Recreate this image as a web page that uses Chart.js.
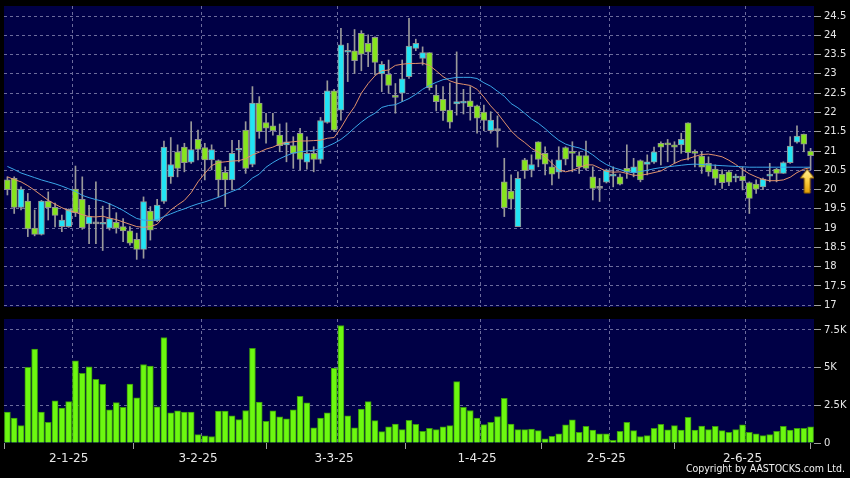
<!DOCTYPE html>
<html>
<head>
<meta charset="utf-8">
<script src="https://cdn.jsdelivr.net/npm/chart.js@4/dist/chart.umd.min.js"></script>
<style>
  html, body { margin: 0; padding: 0; background: #000; }
  #wrap { position: relative; width: 850px; height: 478px; background: #000; overflow: hidden; }
  #price { position: absolute; left: 0; top: 0; }
  #vol { position: absolute; left: 0; top: 312px; }
  #copy { position: absolute; right: 5px; top: 462px; color: #f0f0f0;
          font: 10.5px "DejaVu Sans Condensed", "DejaVu Sans", sans-serif; }
</style>
</head>
<body>
<div id="wrap">
  <canvas id="price" width="850" height="312"></canvas>
  <canvas id="vol" width="850" height="166"></canvas>
  <div id="copy">Copyright by AASTOCKS.com Ltd.</div>
</div>
<script>
// daily candles, oldest first (mid-Dec 2024 .. mid-Jun 2025)
const open = [
  20.25,20.29,19.54,19.7,19.0,18.84,19.7,19.54,19.04,19.04,
  20.01,19.75,19.11,19.11,19.1,19.0,19.15,19.04,18.93,18.71,
  18.45,19.44,19.19,19.69,20.33,20.98,21.1,20.71,21.3,21.09,
  20.77,20.75,20.45,20.25,21.02,21.54,20.65,22.24,21.74,21.65,
  21.41,21.16,21.14,21.46,20.71,20.94,20.78,21.74,22.56,22.06,
  23.56,23.6,24.05,23.79,23.95,23.0,22.99,22.43,22.5,22.93,
  23.66,23.4,23.55,22.45,22.34,22.06,22.22,22.24,22.3,22.17,
  22.01,21.53,21.53,20.2,19.96,19.04,20.77,20.51,21.24,20.94,
  20.59,20.45,21.09,20.98,20.88,20.88,20.33,20.03,20.19,20.35,
  20.33,20.55,20.44,20.75,20.65,20.71,21.2,21.2,21.16,21.16,
  21.73,20.96,20.87,20.68,20.53,20.4,20.46,20.3,20.35,20.18,
  20.14,20.07,20.35,20.53,20.42,20.7,21.23,21.44,21.0
];
const close = [
  20.0,19.54,20.01,18.98,18.84,19.7,19.53,19.33,19.21,19.49,
  19.4,19.01,19.3,19.11,19.14,19.25,19.0,18.93,18.61,18.45,
  19.69,18.95,19.6,21.1,20.65,20.55,20.7,21.04,21.04,20.77,
  21.04,20.25,20.25,20.94,21.04,20.55,22.24,21.5,21.59,21.53,
  21.14,21.24,20.94,20.78,20.94,20.78,21.79,22.56,21.54,23.75,
  23.6,23.34,23.51,23.56,23.3,23.25,22.7,22.39,22.87,23.72,
  23.79,23.55,22.64,22.28,22.04,21.75,22.28,22.28,22.15,21.85,
  21.79,21.8,21.53,19.53,19.75,20.29,20.49,20.65,20.78,20.66,
  20.4,20.77,20.79,20.94,20.59,20.55,20.03,20.03,20.51,20.4,
  20.14,20.46,20.59,20.25,20.72,20.98,21.1,21.16,21.1,21.3,
  20.96,20.94,20.58,20.46,20.29,20.18,20.19,20.35,20.23,19.77,
  20.01,20.27,20.4,20.42,20.7,21.13,21.39,21.18,20.88
];
const high = [
  20.33,20.33,20.07,19.9,19.47,19.72,19.94,19.65,19.34,19.5,
  20.61,20.33,19.59,20.2,19.57,19.64,19.4,19.25,19.04,18.87,
  19.81,19.56,19.75,21.26,21.35,21.16,21.2,21.76,21.54,21.2,
  21.16,20.77,20.59,21.28,21.28,21.76,22.67,22.41,21.98,21.98,
  21.7,21.73,21.37,21.59,21.37,21.11,21.87,22.82,22.6,24.18,
  23.79,24.15,24.12,24.01,23.96,23.32,23.36,22.75,23.36,24.44,
  23.9,23.7,23.55,22.71,22.67,22.76,23.57,22.6,22.67,22.19,
  22.19,22.02,21.91,20.81,20.38,20.46,20.81,20.9,21.24,21.11,
  20.77,21.11,21.11,21.24,20.98,21.26,20.59,20.29,20.53,20.59,
  20.4,21.16,20.81,20.77,20.9,21.1,21.24,21.3,21.24,21.46,
  21.73,21.03,20.98,20.85,20.64,20.51,20.5,20.4,20.59,20.2,
  20.25,20.3,20.68,20.55,20.72,21.37,21.65,21.44,21.07
];
const low = [
  19.86,19.38,19.47,18.78,18.8,18.82,19.21,19.03,18.91,19.02,
  19.3,18.97,18.6,18.6,18.42,18.95,18.87,18.65,18.56,18.19,
  18.22,18.69,19.17,19.64,20.16,20.33,20.46,20.68,20.77,20.25,
  20.51,19.81,19.56,19.99,20.72,20.42,20.59,21.33,21.2,21.41,
  20.98,20.72,20.55,20.51,20.53,20.46,20.68,21.72,21.5,21.8,
  22.8,23.01,23.08,23.19,22.97,22.54,22.5,21.98,22.28,22.88,
  23.6,23.23,22.58,22.04,21.79,21.59,21.93,21.96,21.8,21.46,
  21.53,21.46,21.1,19.3,19.49,19.04,20.29,20.33,20.59,20.38,
  20.12,20.29,20.64,20.46,20.42,20.51,19.73,19.69,20.17,20.07,
  20.12,20.29,20.33,20.2,20.38,20.68,20.64,20.72,20.68,20.94,
  20.77,20.59,20.42,20.35,20.12,20.03,20.1,20.2,19.99,19.38,
  19.9,20.0,20.2,20.2,20.42,20.68,21.2,20.98,20.51
];
// moving averages (orange = short, blue = long)
const maShort = [
  20.33,20.26,20.2,20.1,19.98,19.85,19.72,19.62,19.53,19.45,
  19.41,19.35,19.3,19.29,19.31,19.26,19.22,19.16,19.1,19.04,
  19.02,19.04,19.1,19.3,19.47,19.6,19.72,19.92,20.2,20.42,
  20.62,20.7,20.72,20.74,20.75,20.8,20.9,20.97,21.05,21.1,
  21.18,21.22,21.24,21.26,21.26,21.27,21.28,21.33,21.35,21.6,
  21.9,22.15,22.5,22.75,22.95,23.08,23.1,23.22,23.25,23.27,
  23.27,23.28,23.22,23.08,22.93,22.82,22.76,22.73,22.7,22.6,
  22.4,22.17,21.98,21.75,21.52,21.35,21.22,21.07,20.97,20.85,
  20.68,20.51,20.46,20.5,20.57,20.64,20.64,20.56,20.47,20.45,
  20.46,20.42,20.37,20.37,20.4,20.44,20.48,20.58,20.68,20.76,
  20.8,20.86,20.91,20.92,20.89,20.85,20.76,20.65,20.52,20.41,
  20.33,20.26,20.23,20.23,20.25,20.32,20.44,20.53,20.57
];
const maLong = [
  20.6,20.52,20.43,20.37,20.31,20.25,20.2,20.15,20.09,20.02,
  19.95,19.85,19.79,19.74,19.7,19.63,19.55,19.46,19.35,19.25,
  19.21,19.2,19.22,19.3,19.37,19.44,19.5,19.57,19.63,19.68,
  19.74,19.8,19.88,19.95,20.02,20.14,20.3,20.4,20.58,20.7,
  20.8,20.88,20.95,20.98,21.0,21.02,21.05,21.12,21.2,21.3,
  21.44,21.6,21.75,21.88,21.98,22.13,22.18,22.2,22.28,22.36,
  22.47,22.6,22.7,22.78,22.85,22.88,22.91,22.91,22.91,22.88,
  22.77,22.68,22.55,22.42,22.23,22.12,21.98,21.83,21.72,21.58,
  21.42,21.28,21.18,21.12,21.08,21.01,20.9,20.76,20.65,20.57,
  20.52,20.46,20.44,20.47,20.5,20.54,20.57,20.59,20.61,20.63,
  20.65,20.66,20.65,20.64,20.63,20.62,20.61,20.6,20.59,20.58,
  20.58,20.58,20.58,20.58,20.58,20.58,20.58,20.58,20.58
];
// volume in thousands
const volK = [
  2.05,1.66,1.15,5.03,6.24,2.05,1.37,2.8,2.32,2.75,
  5.45,4.62,5.05,4.22,3.89,2.2,2.68,2.36,3.91,2.99,
  5.21,5.1,2.4,7.0,2.0,2.14,2.05,2.05,0.56,0.47,
  0.43,2.12,2.12,1.81,1.55,2.16,6.28,2.71,1.43,2.14,
  1.74,1.61,2.2,3.1,2.66,1.0,1.66,2.0,4.97,7.8,
  1.81,1.0,2.25,2.75,1.48,0.76,1.07,1.26,0.89,1.5,
  1.24,0.78,0.97,0.89,1.07,1.15,4.07,2.36,2.16,1.66,
  1.22,1.37,1.76,2.97,1.26,0.89,0.89,0.93,0.82,0.28,
  0.45,0.61,1.2,1.53,0.71,1.11,0.86,0.61,0.61,0.18,
  0.78,1.37,0.82,0.43,0.49,0.97,1.24,0.87,1.15,0.86,
  1.7,0.86,1.13,0.89,1.11,0.82,0.71,0.89,1.2,0.71,
  0.61,0.49,0.56,0.78,1.11,0.86,0.97,0.97,1.07
];

const dateLabels = ['2-1-25', '3-2-25', '3-3-25', '1-4-25', '2-5-25', '2-6-25'];
const dateIdx = [9, 28, 48, 69, 88, 108];   // candle of each month's first trading day
const priceTicks = [17, 17.5, 18, 18.5, 19, 19.5, 20, 20.5, 21, 21.5, 22, 22.5, 23, 23.5, 24, 24.5];
const priceLabels = ['17', '17.5', '18', '18.5', '19', '19.5', '20', '20.5', '21', '21.5', '22', '22.5', '23', '23.5', '24', '24.5'];
const volTicks = [0, 2.5, 5, 7.5];
const volLabels = ['0', '2.5K', '5K', '7.5K'];
const signal = { x: 117.5, y: 20.22 };  // yellow buy arrow

const N = close.length;
const UP = '#22e4f4', DOWN = '#86e41e', FLAT = '#9a9a9a';
const GRID = '#6c6c9c';
const TXT = '#e6e6e6';
const FONT = 'DejaVu Sans';

const idx = close.map((_, i) => i);
const wickData = idx.map(i => ({ x: i, y: [low[i], high[i]] }));
const bodyData = idx.map(i => ({ x: i, y: [open[i], close[i]] }));
const bodyColors = idx.map(i => close[i] > open[i] ? UP : (close[i] < open[i] ? DOWN : FLAT));
const shortData = idx.map(i => ({ x: i, y: maShort[i] }));
const longData = idx.map(i => ({ x: i, y: maLong[i] }));
const volData = idx.map(i => ({ x: i, y: volK[i] }));
const gridPos = dateIdx.map(i => i + 0.5);

// arrow marker
function makeArrow() {
  const c = document.createElement('canvas');
  c.width = 16; c.height = 26;
  const g = c.getContext('2d');
  const grad = g.createLinearGradient(0, 0, 0, 26);
  grad.addColorStop(0, '#fff2a0');
  grad.addColorStop(0.5, '#ffd040');
  grad.addColorStop(1, '#e09a00');
  g.beginPath();
  g.moveTo(8, 1); g.lineTo(15, 10); g.lineTo(11, 10); g.lineTo(11, 25);
  g.lineTo(5, 25); g.lineTo(5, 10); g.lineTo(1, 10); g.closePath();
  g.fillStyle = grad; g.fill();
  g.strokeStyle = '#8a5a00'; g.lineWidth = 1; g.stroke();
  return c;
}

const plotBg = {
  id: 'plotBg',
  beforeDraw(chart) {
    const { ctx, chartArea: a } = chart;
    ctx.save();
    ctx.fillStyle = '#000046';
    ctx.fillRect(a.left, a.top, a.right - a.left, a.bottom - a.top);
    ctx.restore();
  }
};

function noPad(s) { s.paddingTop = 0; s.paddingBottom = 0; s.paddingLeft = 0; s.paddingRight = 0; }

Chart.defaults.font.family = FONT;
Chart.defaults.animation = false;

new Chart(document.getElementById('price'), {
  type: 'bar',
  data: {
    datasets: [
      { type: 'line', data: [signal], pointStyle: makeArrow(), pointRadius: 10, showLine: false, order: 0 },
      { type: 'line', data: longData, borderColor: '#3aa6e8', borderWidth: 1, pointRadius: 0, tension: 0, order: 1 },
      { type: 'line', data: shortData, borderColor: '#e2926c', borderWidth: 1, pointRadius: 0, tension: 0, order: 2 },
      { data: bodyData, backgroundColor: bodyColors, borderColor: '#929292', borderWidth: 1,
        borderSkipped: false, barThickness: 6, minBarLength: 2, grouped: false, order: 3 },
      { data: wickData, backgroundColor: '#9a9a9a', barThickness: 1, grouped: false, order: 4 }
    ]
  },
  options: {
    responsive: false,
    devicePixelRatio: 1,
    layout: { autoPadding: false, padding: { left: 4, top: 6, right: 0, bottom: 5 } },
    plugins: { legend: { display: false }, tooltip: { enabled: false } },
    scales: {
      x: {
        type: 'linear', min: -0.5, max: N - 0.5, offset: false,
        grid: { color: GRID, drawTicks: false, offset: false },
        border: { display: false, dash: [3, 3] },
        ticks: { display: false },
        afterBuildTicks: s => { s.ticks = gridPos.map(v => ({ value: v })); },
        afterFit: s => { s.height = 0; noPad(s); }
      },
      y: {
        type: 'linear', position: 'right', min: 16.955, max: 24.76,
        grid: { color: GRID, tickColor: '#a0a0a0', tickLength: 7, tickBorderDash: [] },
        border: { display: false, dash: [3, 3] },
        ticks: { color: TXT, font: { size: 10 }, padding: 3,
                 callback: (v, i) => priceLabels[i] },
        afterBuildTicks: s => { s.ticks = priceTicks.map(v => ({ value: v })); },
        afterFit: s => { s.width = 36; noPad(s); }
      }
    }
  },
  plugins: [plotBg]
});

new Chart(document.getElementById('vol'), {
  type: 'bar',
  data: {
    datasets: [
      { data: volData, backgroundColor: '#6cf810', borderColor: '#3a9a0c', borderWidth: 1,
        borderSkipped: 'start', barThickness: 6, xAxisID: 'x' }
    ]
  },
  options: {
    responsive: false,
    devicePixelRatio: 1,
    layout: { autoPadding: false, padding: { left: 4, top: 7, right: 0, bottom: 0 } },
    plugins: { legend: { display: false }, tooltip: { enabled: false } },
    scales: {
      x: {
        type: 'linear', min: -0.5, max: N - 0.5, offset: false,
        grid: { color: GRID, drawTicks: false, offset: false },
        border: { display: false, dash: [3, 3] },
        ticks: { display: false },
        afterBuildTicks: s => { s.ticks = gridPos.map(v => ({ value: v })); },
        afterFit: s => { s.height = 0; noPad(s); }
      },
      x2: {
        type: 'linear', position: 'bottom', min: -0.5, max: N - 0.5, offset: false,
        grid: { drawOnChartArea: false, color: '#a0a0a0', tickLength: 6 },
        border: { display: false },
        ticks: { color: TXT, font: { size: 12 }, padding: 3, maxRotation: 0, autoSkip: false,
                 callback: (v, i) => dateLabels[i] },
        afterBuildTicks: s => { s.ticks = dateIdx.map(v => ({ value: v })); },
        afterFit: s => { s.height = 35; noPad(s); }
      },
      y: {
        type: 'linear', position: 'right', min: 0, max: 8.23,
        grid: { color: c => c.tick && c.tick.value === 0 ? 'rgba(0,0,0,0)' : GRID,
                tickColor: '#a0a0a0', tickLength: 7, tickBorderDash: [] },
        border: { display: false, dash: [3, 3] },
        ticks: { color: TXT, font: { size: 10 }, padding: 3,
                 callback: (v, i) => volLabels[i] },
        afterBuildTicks: s => { s.ticks = volTicks.map(v => ({ value: v })); },
        afterFit: s => { s.width = 36; noPad(s); }
      }
    }
  },
  plugins: [plotBg]
});
</script>
</body>
</html>
